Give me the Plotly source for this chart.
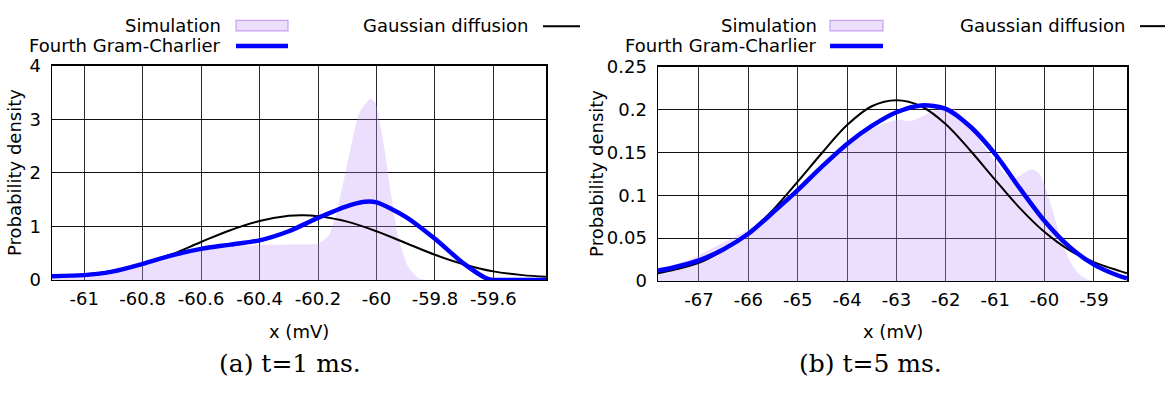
import plotly.graph_objects as go

W, H = 1165, 396

# ---------------- data: panel (a) t=1 ms ----------------
a_sim_x = [-61.11, -61.0, -60.9, -60.8, -60.7, -60.6, -60.5, -60.4, -60.3, -60.2,
           -60.163, -60.127, -60.092, -60.057, -60.021, -60.004, -59.974, -59.95,
           -59.927, -59.891, -59.856, -59.833, -59.7, -59.42]
a_sim_y = [0.04, 0.07, 0.14, 0.28, 0.45, 0.58, 0.63, 0.65, 0.66, 0.68,
           0.83, 1.48, 2.37, 3.14, 3.38, 3.31, 2.49, 1.6,
           0.83, 0.24, 0.03, 0.0, 0.0, 0.0]

a_gd_x = [-61.11, -61.0, -60.9, -60.8, -60.7, -60.6, -60.5, -60.4, -60.3, -60.25,
          -60.2, -60.1, -60.0, -59.9, -59.8, -59.7, -59.6, -59.5, -59.42]
a_gd_y = [0.06, 0.10, 0.17, 0.30, 0.48, 0.71, 0.93, 1.10, 1.20, 1.21,
          1.19, 1.09, 0.91, 0.69, 0.47, 0.29, 0.16, 0.09, 0.06]

a_gc_x = [-61.11, -61.0, -60.9, -60.8, -60.7, -60.6, -60.5, -60.4, -60.3, -60.2,
          -60.1, -60.04, -60.0, -59.9, -59.8, -59.7, -59.62, -59.6, -59.5, -59.42]
a_gc_y = [0.07, 0.09, 0.16, 0.30, 0.46, 0.58, 0.66, 0.74, 0.91, 1.16,
          1.38, 1.46, 1.45, 1.18, 0.77, 0.30, 0.02, 0.0, 0.0, 0.0]

a_xticks = [-61, -60.8, -60.6, -60.4, -60.2, -60, -59.8, -59.6]
a_xlabels = ["-61", "-60.8", "-60.6", "-60.4", "-60.2", "-60", "-59.8", "-59.6"]
a_yticks = [0, 1, 2, 3, 4]
a_ylabels = ["0", "1", "2", "3", "4"]

# ---------------- data: panel (b) t=5 ms ----------------
b_sim_x = [-67.83, -67.5, -67.0, -66.5, -66.0, -65.5, -65.0, -64.5, -64.0, -63.5,
           -63.0, -62.7, -62.3, -62.0, -61.8, -61.5, -61.2, -61.0, -60.8, -60.6,
           -60.4, -60.25, -60.1, -60.0, -59.85, -59.7, -59.5, -59.3, -59.1, -58.9, -58.33]
b_sim_y = [0.011, 0.018, 0.030, 0.045, 0.060, 0.082, 0.106, 0.133, 0.160, 0.178,
           0.188, 0.187, 0.197, 0.203, 0.200, 0.180, 0.155, 0.140, 0.125, 0.120,
           0.127, 0.130, 0.125, 0.112, 0.085, 0.055, 0.025, 0.008, 0.001, 0.0, 0.0]

b_gd_x = [-67.83, -67.5, -67.0, -66.5, -66.0, -65.5, -65.0, -64.5, -64.0, -63.5,
          -63.0, -62.5, -62.0, -61.5, -61.0, -60.5, -60.0, -59.5, -59.0, -58.5, -58.33]
b_gd_y = [0.009, 0.013, 0.021, 0.036, 0.056, 0.083, 0.116, 0.150, 0.182, 0.204,
          0.211, 0.204, 0.183, 0.152, 0.118, 0.085, 0.057, 0.036, 0.022, 0.012, 0.009]

b_gc_x = [-67.83, -67.5, -67.0, -66.5, -66.0, -65.5, -65.0, -64.5, -64.0, -63.5,
          -63.0, -62.5, -62.0, -61.5, -61.0, -60.5, -60.0, -59.5, -59.0, -58.5, -58.33]
b_gc_y = [0.012, 0.016, 0.024, 0.037, 0.055, 0.080, 0.106, 0.134, 0.160, 0.181,
          0.197, 0.205, 0.201, 0.180, 0.148, 0.108, 0.070, 0.040, 0.019, 0.006, 0.003]

b_xticks = [-67, -66, -65, -64, -63, -62, -61, -60, -59]
b_xlabels = ["-67", "-66", "-65", "-64", "-63", "-62", "-61", "-60", "-59"]
b_yticks = [0, 0.05, 0.1, 0.15, 0.2, 0.25]
b_ylabels = ["0", "0.05", "0.1", "0.15", "0.2", "0.25"]

names = ["Simulation", "Fourth Gram-Charlier", "Gaussian diffusion"]
captions = ["(a) t=1 ms.", "(b) t=5 ms."]
xtitle = "x (mV)"
ytitle = "Probability density"

# ---------------- styles ----------------
FILL = "rgba(192,148,248,0.30)"
FILL_EDGE = "#c6a2f2"
BLUE = "#0000ff"
BLACK = "#000000"
FONT = "DejaVu Sans"


def px(x):
    return x / W


def py(y):
    return 1 - y / H


fig = go.Figure()

panels = [
    dict(sx=a_sim_x, sy=a_sim_y, gx=a_gd_x, gy=a_gd_y, cx=a_gc_x, cy=a_gc_y,
         xr=[-61.11, -59.42], yr=[0, 4], xt=a_xticks, xl=a_xlabels,
         yt=a_yticks, yl=a_ylabels, box=(52, 546, 58, 284), ax="", smooth=0.6),
    dict(sx=b_sim_x, sy=b_sim_y, gx=b_gd_x, gy=b_gd_y, cx=b_gc_x, cy=b_gc_y,
         xr=[-67.83, -58.33], yr=[0, 0.25], xt=b_xticks, xl=b_xlabels,
         yt=b_yticks, yl=b_ylabels, box=(658, 1127, 59, 285), ax="2", smooth=0.8),
]

for p in panels:
    xa = "x" + p["ax"]
    ya = "y" + p["ax"]
    fig.add_trace(go.Scatter(x=p["sx"], y=p["sy"], mode="lines", fill="tozeroy",
                             fillcolor=FILL, line=dict(width=0, shape="spline",
                                                       smoothing=p["smooth"]),
                             xaxis=xa, yaxis=ya, showlegend=False, name=names[0]))
    fig.add_trace(go.Scatter(x=p["gx"], y=p["gy"], mode="lines",
                             line=dict(color=BLACK, width=2, shape="spline"),
                             xaxis=xa, yaxis=ya, showlegend=False, name=names[2]))
    fig.add_trace(go.Scatter(x=p["cx"], y=p["cy"], mode="lines",
                             line=dict(color=BLUE, width=4.5, shape="spline",
                                       smoothing=0.8),
                             xaxis=xa, yaxis=ya, showlegend=False, name=names[1]))

layout_axes = {}
for p in panels:
    l, r, t, b = p["box"]
    xkey = "xaxis" + p["ax"]
    ykey = "yaxis" + p["ax"]
    layout_axes[xkey] = dict(
        domain=[px(l), px(r)], range=p["xr"], anchor="y" + p["ax"],
        tickvals=p["xt"], ticktext=p["xl"], showgrid=True, gridcolor="#2a2a2a",
        gridwidth=1, zeroline=False, showline=True, linecolor=BLACK, linewidth=1.5,
        mirror=True, ticks="", ticklabelstandoff=2,
        tickfont=dict(family=FONT, size=18, color=BLACK))
    layout_axes[ykey] = dict(
        domain=[py(b), py(t)], range=p["yr"], anchor="x" + p["ax"],
        tickvals=p["yt"], ticktext=p["yl"], showgrid=True, gridcolor="#111111",
        gridwidth=1, zeroline=False, showline=True, linecolor=BLACK, linewidth=1.5,
        mirror=True, ticks="", ticklabelstandoff=6,
        tickfont=dict(family=FONT, size=18, color=BLACK))

annotations = []
shapes = []


def text(x, y, s, anchor="center", size=18, family=FONT, angle=0):
    annotations.append(dict(x=px(x), y=py(y), xref="paper", yref="paper", text=s,
                            showarrow=False, xanchor=anchor, yanchor="middle",
                            textangle=angle, borderpad=0,
                            font=dict(family=family, size=size, color=BLACK)))


# axis titles & captions
text(299, 338, xtitle)
text(893, 338, xtitle)
text(15, 171, ytitle, angle=-90)
text(597, 172, ytitle, angle=-90)
text(290, 372, captions[0], size=25, family="DejaVu Serif")
text(870, 372, captions[1], size=25, family="DejaVu Serif")

# legends (text right aligned, sample to the right)
ROW1, ROW2 = 15.5, 36.5
legend_rows = [
    (222, 236, 288, 529, 543, 580),
    (818, 830, 883, 1126, 1140, 1165),
]
for te, s0, s1, ge, g0, g1 in legend_rows:
    text(te, ROW1, names[0], anchor="right")
    text(te, ROW2, names[1], anchor="right")
    text(ge, ROW1, names[2], anchor="right")
    shapes.append(dict(type="rect", xref="paper", yref="paper",
                       x0=px(s0), x1=px(s1), y0=py(ROW1 + 5.5), y1=py(ROW1 - 5.5),
                       fillcolor="#ecdffd", line=dict(color=FILL_EDGE, width=1.2)))
    shapes.append(dict(type="line", xref="paper", yref="paper",
                       x0=px(s0), x1=px(s1), y0=py(ROW2 + 0.5), y1=py(ROW2 + 0.5),
                       line=dict(color=BLUE, width=4.5)))
    shapes.append(dict(type="line", xref="paper", yref="paper",
                       x0=px(g0), x1=px(g1), y0=py(ROW1 + 0.5), y1=py(ROW1 + 0.5),
                       line=dict(color=BLACK, width=2)))

fig.update_layout(width=W, height=H, autosize=False,
                  margin=dict(l=0, r=0, t=0, b=0),
                  paper_bgcolor="white", plot_bgcolor="white",
                  annotations=annotations, shapes=shapes, **layout_axes)

fig.write_html("out.html",
               config={"displayModeBar": False, "staticPlot": True},
               post_script="document.body.style.margin='0';"
                           "document.body.style.overflow='hidden';")
